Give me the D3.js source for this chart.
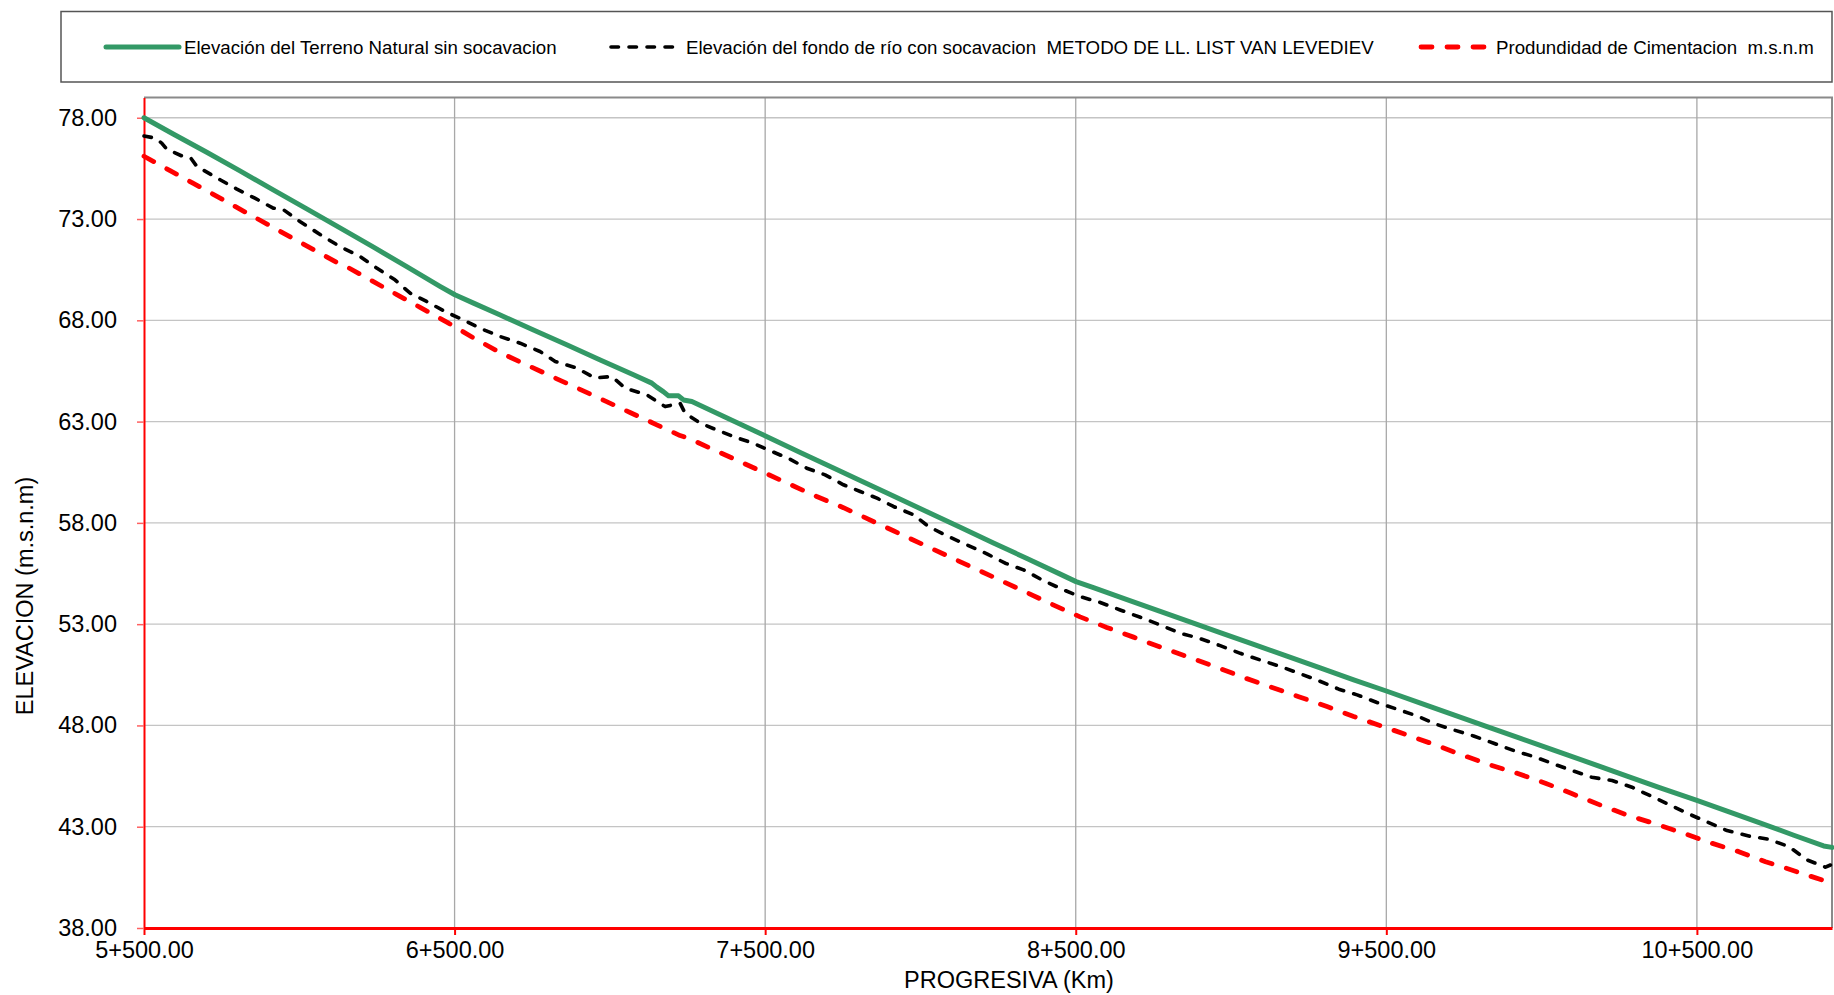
<!DOCTYPE html>
<html>
<head>
<meta charset="utf-8">
<script src="https://cdn.jsdelivr.net/npm/d3@7"></script>
<style>
  html, body { margin: 0; padding: 0; background: #ffffff; }
  svg { display: block; font-family: "Liberation Sans", Arial, sans-serif; }
</style>
</head>
<body>
<svg id="chart" width="1834" height="995"></svg>
<script>
// Progresiva (m) and elevation (m.s.n.m) for each profile
const terrenoSta = [5500, 5594, 5702, 5809, 5916, 6024, 6131, 6239, 6346, 6453, 6501, 6561, 6647, 6754, 6861, 6969, 7076, 7135, 7151, 7172, 7189, 7221, 7237, 7264, 7398, 7501, 7613, 7720, 7806, 7913, 8021, 8128, 8235, 8343, 8450, 8501, 8557, 8665, 8772, 8879, 8965, 9073, 9180, 9287, 9395, 9500, 9610, 9717, 9824, 9932, 10039, 10160, 10275, 10382, 10500, 10597, 10705, 10812, 10908, 10935];
const terrenoElev = [78.00, 77.20, 76.30, 75.38, 74.44, 73.50, 72.56, 71.61, 70.65, 69.68, 69.26, 68.85, 68.26, 67.52, 66.79, 66.04, 65.31, 64.90, 64.70, 64.48, 64.27, 64.27, 64.07, 63.99, 63.03, 62.29, 61.48, 60.71, 60.09, 59.33, 58.55, 57.78, 57.01, 56.24, 55.47, 55.10, 54.80, 54.21, 53.63, 53.05, 52.58, 52.00, 51.42, 50.84, 50.25, 49.70, 49.10, 48.52, 47.94, 47.36, 46.78, 46.13, 45.50, 44.92, 44.30, 43.77, 43.18, 42.58, 42.05, 41.98];

const socavSta = [5500, 5535, 5557, 5573, 5637, 5652, 5670, 5745, 5799, 5857, 5916, 5949, 6002, 6077, 6131, 6196, 6249, 6308, 6357, 6410, 6475, 6528, 6582, 6647, 6711, 6775, 6824, 6894, 6952, 7006, 7049, 7119, 7178, 7226, 7242, 7291, 7344, 7398, 7462, 7511, 7580, 7634, 7693, 7752, 7806, 7860, 7913, 7978, 8026, 8085, 8150, 8214, 8273, 8332, 8391, 8455, 8514, 8579, 8643, 8708, 8772, 8837, 8896, 8965, 9030, 9094, 9159, 9218, 9282, 9347, 9406, 9470, 9535, 9599, 9658, 9717, 9781, 9846, 9910, 9975, 10039, 10095, 10162, 10227, 10291, 10361, 10420, 10474, 10538, 10597, 10667, 10731, 10796, 10855, 10914, 10930];
const socavElev = [77.10, 77.00, 76.75, 76.45, 76.01, 75.98, 75.60, 74.94, 74.48, 74.03, 73.54, 73.46, 72.88, 72.14, 71.64, 71.15, 70.58, 70.00, 69.34, 68.93, 68.39, 68.02, 67.61, 67.20, 66.87, 66.46, 65.97, 65.64, 65.15, 65.23, 64.65, 64.32, 63.74, 63.91, 63.42, 62.92, 62.59, 62.26, 61.93, 61.60, 61.14, 60.70, 60.37, 59.88, 59.55, 59.22, 58.81, 58.40, 57.82, 57.36, 56.91, 56.47, 56.01, 55.68, 55.19, 54.73, 54.36, 54.07, 53.70, 53.34, 52.96, 52.55, 52.31, 51.94, 51.56, 51.23, 50.91, 50.58, 50.21, 49.79, 49.51, 49.13, 48.80, 48.47, 48.07, 47.78, 47.48, 47.12, 46.76, 46.46, 46.10, 45.79, 45.44, 45.28, 44.95, 44.45, 44.02, 43.63, 43.20, 42.81, 42.54, 42.38, 42.02, 41.36, 41.00, 41.11];

const cimentSta = [5500, 5584, 5659, 5755, 5831, 5906, 5992, 6067, 6131, 6158, 6228, 6314, 6389, 6475, 6561, 6650, 6722, 6808, 6894, 6979, 7065, 7151, 7226, 7253, 7323, 7408, 7494, 7580, 7666, 7752, 7820, 7913, 8004, 8090, 8176, 8262, 8348, 8429, 8514, 8600, 8686, 8778, 8863, 8960, 9040, 9126, 9218, 9309, 9395, 9481, 9567, 9658, 9744, 9835, 9921, 10012, 10095, 10189, 10275, 10366, 10457, 10543, 10635, 10721, 10812, 10919, 10935];
const cimentElev = [76.10, 75.39, 74.76, 73.95, 73.30, 72.67, 71.94, 71.31, 70.77, 70.60, 70.00, 69.27, 68.64, 67.91, 67.13, 66.38, 65.87, 65.26, 64.66, 64.06, 63.45, 62.84, 62.31, 62.18, 61.69, 61.10, 60.50, 59.90, 59.30, 58.75, 58.27, 57.61, 56.96, 56.35, 55.74, 55.13, 54.52, 53.94, 53.36, 52.84, 52.36, 51.84, 51.37, 50.84, 50.37, 49.91, 49.42, 48.93, 48.44, 47.99, 47.53, 47.04, 46.54, 46.05, 45.64, 45.15, 44.65, 44.07, 43.58, 43.14, 42.68, 42.21, 41.77, 41.27, 40.83, 40.29, 40.20];

// Axis ticks
const xTickValues = [5500, 6500, 7500, 8500, 9500, 10500];
const xTickLabels = ["5+500.00", "6+500.00", "7+500.00", "8+500.00", "9+500.00", "10+500.00"];
const yTickValues = [38, 43, 48, 53, 58, 63, 68, 73, 78];

const seriesNames = [
  "Elevación del Terreno Natural sin socavacion",
  "Elevación del fondo de río con socavacion  METODO DE LL. LIST VAN LEVEDIEV",
  "Produndidad de Cimentacion  m.s.n.m"
];

const svg = d3.select("#chart");

const plot = { left: 144, right: 1832, top: 97.5, bottom: 928 };

const x = d3.scaleLinear().domain([5500, 10935]).range([plot.left, plot.right]);
const y = d3.scaleLinear().domain([38, 79]).range([plot.bottom, plot.top]);

// Gridlines
const grid = svg.append("g");
grid.selectAll("line.h").data(yTickValues.slice(1)).enter().append("line")
  .attr("x1", plot.left).attr("x2", plot.right)
  .attr("y1", d => y(d)).attr("y2", d => y(d))
  .attr("stroke", "#c4c4c4").attr("stroke-width", 1.3);
grid.selectAll("line.v").data(xTickValues.slice(1)).enter().append("line")
  .attr("x1", d => x(d)).attr("x2", d => x(d))
  .attr("y1", plot.top).attr("y2", plot.bottom)
  .attr("stroke", "#a8a8a8").attr("stroke-width", 1.3);

// Plot frame (top and right)
svg.append("path")
  .attr("d", `M${plot.left},${plot.top}H${plot.right}V${plot.bottom}`)
  .attr("fill", "none").attr("stroke", "#8a8a8a").attr("stroke-width", 2);

// Axes
const xAxis = d3.axisBottom(x).tickValues(xTickValues)
  .tickFormat((d, i) => xTickLabels[i]).tickSize(7).tickSizeOuter(0);
const gx = svg.append("g").attr("transform", `translate(0,${plot.bottom})`).call(xAxis);
gx.select(".domain").attr("stroke", "#ff0000").attr("stroke-width", 3);
gx.selectAll(".tick line").attr("stroke", "#ff0000").attr("stroke-width", 2);
gx.selectAll(".tick text").attr("fill", "#000").attr("font-size", "23.5px")
  .attr("font-family", "'Liberation Sans', Arial, sans-serif").attr("y", 13).attr("dy", "0.71em");

const yAxis = d3.axisLeft(y).tickValues(yTickValues)
  .tickFormat(d3.format(".2f")).tickSize(7).tickSizeOuter(0);
const gy = svg.append("g").attr("transform", `translate(${plot.left},0)`).call(yAxis);
gy.select(".domain").attr("stroke", "#ff0000").attr("stroke-width", 2);
gy.selectAll(".tick line").attr("stroke", "#ff6060").attr("stroke-width", 1.5);
gy.selectAll(".tick text").attr("fill", "#000").attr("font-size", "23.5px")
  .attr("font-family", "'Liberation Sans', Arial, sans-serif").attr("x", -27);

// Series lines
const line = d3.line().x(d => x(d[0])).y(d => y(d[1]));
const zip = (a, b) => a.map((v, i) => [v, b[i]]);

const styles = [
  { color: "#339966", width: 5, dash: null, cap: "round" },
  { color: "#000000", width: 3.6, dash: "7.5,10.5", cap: "round" },
  { color: "#ff0000", width: 4.8, dash: "11,15", cap: "round" }
];
const seriesData = [
  zip(terrenoSta, terrenoElev),
  zip(socavSta, socavElev),
  zip(cimentSta, cimentElev)
];

[2, 1, 0].forEach(i => {
  const s = styles[i];
  svg.append("path").datum(seriesData[i])
    .attr("d", line)
    .attr("fill", "none")
    .attr("stroke", s.color)
    .attr("stroke-width", s.width)
    .attr("stroke-linejoin", "round")
    .attr("stroke-linecap", s.cap)
    .attr("stroke-dasharray", s.dash);
});

// Axis titles
svg.append("text")
  .attr("transform", "translate(33,596) rotate(-90)")
  .attr("text-anchor", "middle")
  .attr("font-size", "23.5px")
  .text("ELEVACION (m.s.n.m)");
svg.append("text")
  .attr("x", 1009).attr("y", 988)
  .attr("text-anchor", "middle")
  .attr("font-size", "23.5px")
  .text("PROGRESIVA (Km)");

// Legend
const legend = svg.append("g");
legend.append("rect")
  .attr("x", 61).attr("y", 11.5).attr("width", 1771).attr("height", 70.5)
  .attr("fill", "#ffffff").attr("stroke", "#555555").attr("stroke-width", 1.5);

const legendItems = [
  { x1: 106, x2: 179, tx: 184 },
  { x1: 611, x2: 682, tx: 686 },
  { x1: 1421, x2: 1490, tx: 1496 }
];
legendItems.forEach((it, i) => {
  const s = styles[i];
  legend.append("line")
    .attr("x1", it.x1).attr("x2", it.x2).attr("y1", 47).attr("y2", 47)
    .attr("stroke", s.color).attr("stroke-width", s.width)
    .attr("stroke-linecap", s.cap)
    .attr("stroke-dasharray", s.dash);
  legend.append("text")
    .attr("x", it.tx).attr("y", 47).attr("dy", "0.35em")
    .attr("font-size", "18.7px")
    .attr("xml:space", "preserve")
    .style("white-space", "pre")
    .text(seriesNames[i]);
});
</script>
</body>
</html>
